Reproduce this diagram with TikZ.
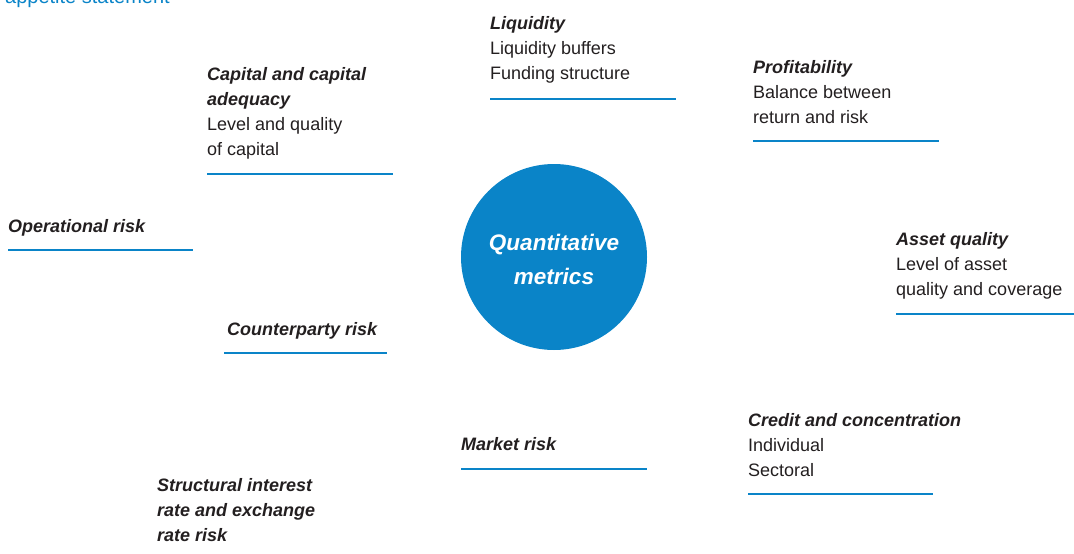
\documentclass[tikz,border=0pt]{standalone}
\usepackage{fontspec}
\setmainfont{Liberation Sans}
\definecolor{ecbblue}{HTML}{0A84C8}
\definecolor{txtgray}{HTML}{231F20}
\begin{document}
\begin{tikzpicture}[x=1pt,y=-1pt,
  item/.style={anchor=base west,inner sep=0pt,align=left,text=txtgray,
    font=\fontsize{18}{25}\selectfont},
  rule/.style={draw=ecbblue,line width=1.1pt}]
\useasboundingbox (0,0) rectangle (1074,554);
\node[anchor=base west,inner sep=0pt,text=ecbblue,font=\fontsize{20}{25}\selectfont] (head) at (5,3) {appetite statement};
\fill[ecbblue] (554,257) circle (93);
\node[text=white,align=center,inner sep=0pt,font=\fontsize{22.5}{34}\selectfont\bfseries\itshape] (qm) at (554,259) {Quantitative\\metrics};
\node[item] (liq) at (490,79) {\textbf{\textit{Liquidity}}\\Liquidity buffers\\Funding structure};
\draw[rule] (490,99) -- (676,99);
\node[item] (cap) at (207,155) {\textbf{\textit{Capital and capital}}\\\textbf{\textit{adequacy}}\\Level and quality\\of capital};
\draw[rule] (207,174) -- (393,174);
\node[item] (prof) at (753,123) {\textbf{\textit{Profitability}}\\Balance between\\return and risk};
\draw[rule] (753,141) -- (939,141);
\node[item] (oper) at (8,232) {\textbf{\textit{Operational risk}}};
\draw[rule] (8,250) -- (193,250);
\node[item] (asset) at (896,295) {\textbf{\textit{Asset quality}}\\Level of asset\\quality and coverage};
\draw[rule] (896,314) -- (1074,314);
\node[item] (cpty) at (227,335) {\textbf{\textit{Counterparty risk}}};
\draw[rule] (224,353) -- (387,353);
\node[item] (mkt) at (461,450) {\textbf{\textit{Market risk}}};
\draw[rule] (461,469) -- (647,469);
\node[item] (cred) at (748,476) {\textbf{\textit{Credit and concentration}}\\Individual\\Sectoral};
\draw[rule] (748,494) -- (933,494);
\node[item] (struct) at (157,541) {\textbf{\textit{Structural interest}}\\\textbf{\textit{rate and exchange}}\\\textbf{\textit{rate risk}}};
\end{tikzpicture}
\end{document}
